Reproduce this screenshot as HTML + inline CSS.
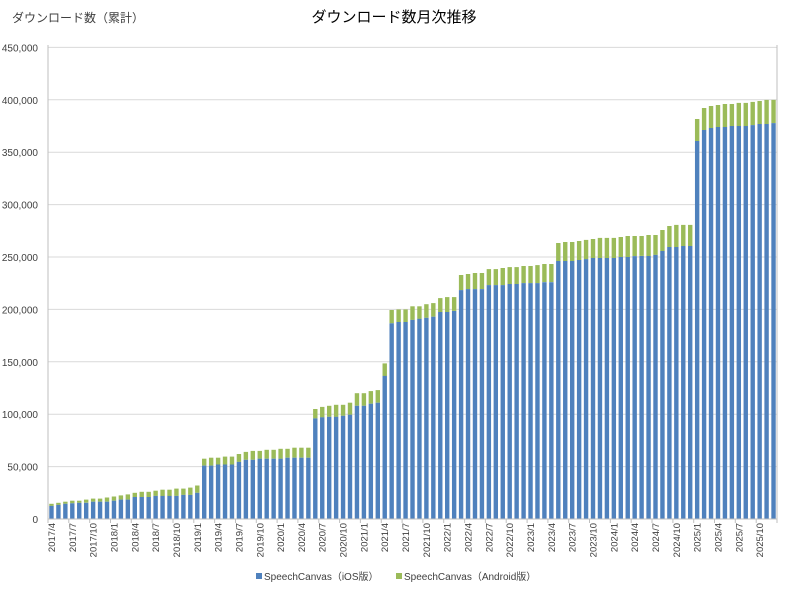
<!DOCTYPE html>
<html><head><meta charset="utf-8"><style>
body{margin:0;background:#fff;}
svg{display:block;font-family:"Liberation Sans","Noto Sans CJK JP",sans-serif;}
</style></head><body>
<svg id="c" width="789" height="593" xmlns="http://www.w3.org/2000/svg">
<rect width="789" height="593" fill="#fff"/>
<text x="12" y="22" font-size="12" fill="#404040">ダウンロード数（累計）</text>
<text x="394" y="22" font-size="15" fill="#000" text-anchor="middle">ダウンロード数月次推移</text>
<g id="g"></g>
<rect x="256" y="573" width="6" height="6" fill="#4f81bd"/>
<text x="264" y="580" font-size="10" fill="#404040">SpeechCanvas（iOS版）</text>
<rect x="396" y="573" width="6" height="6" fill="#9bbb59"/>
<text x="404" y="580" font-size="10" fill="#404040">SpeechCanvas（Android版）</text>
</svg>
<script>
var d=[[12.5,14.5],[13.5,15.5],[14.5,16.5],[15,17.5],[15.5,17.5],[15.5,18.5],[16.5,19.5],[16.5,19.5],[16.5,20.5],[17.5,21.5],[18.5,22.5],[18.5,23.5],
[21,25],[21,26],[21,26],[22,27],[22,28],[22,28],[22,29],[23,29],[23,30],[25,32],[51,57.5],[51,58.5],[52,58.5],[52,59.5],[52,59.5],[54.5,62],[56.5,64],[56.5,65],[57.5,65],[57.5,66],[57.5,66],[57.5,67],[58.5,67],[58.5,68],[58.5,68],[58.5,68],
[96,105],[97,107],[97.5,108],[97.5,109],[98.5,109],[99.5,111],[108,120],[108,120],[110,122],[111,123],
[136.5,148.5],[186.7,199.4],[188,200],[188,200],[190,203],[191,203],[192,205],[193,206],[197.5,210.8],[197.5,211.7],[198.5,211.7],
[218.4,232.8],[219.4,233.8],[219.4,234.7],[219.4,234.7],[223.2,238.5],[223.2,238.5],[223.2,239.5],[224.2,240.4],[224.2,240.4],[225.1,241.4],[225.1,241.4],[225.1,242.3],[226,243.3],[226,243.3],
[246.2,263.4],[246.2,264.3],[246.2,264.3],[247.1,265.3],[248,266.3],[249,267.2],[249,268.2],[249,268.2],[249,268.2],[250,269.1],[250,270],[250.9,270],[251,270],[251,271],[252,271],
[255.7,275.8],[259.5,279.6],[259.5,280.6],[260.5,280.6],[260.5,280.6],
[360.7,381.7],[371.2,392.2],[373.1,394.1],[374,395],[374,396],[375,396],[375,397],[375,397],[375.9,398],[376.9,398.9],[376.9,399.9],[377.8,399.9]];
var s='',X0=48,X1=777,Y0=519,k=1.048,p=(X1-X0)/105;
for(var v=0;v<=450;v+=50){var y=(Y0-v*k).toFixed(1);
 if(v>0)s+='<line x1="'+X0+'" x2="'+X1+'" y1="'+y+'" y2="'+y+'" stroke="#d9d9d9"/>';
 s+='<text x="38" y="'+(+y+4)+'" font-size="10" fill="#404040" text-anchor="end">'+(v?v.toLocaleString('en-US')+',000':'0')+'</text>';}
s+='<line x1="'+X0+'" x2="'+X0+'" y1="45" y2="'+Y0+'" stroke="#bfbfbf"/>';
s+='<line x1="'+X1+'" x2="'+X1+'" y1="45" y2="'+Y0+'" stroke="#bfbfbf"/>';
for(var i=0;i<d.length;i++){var c=X0+p*(i+0.5),w=4.4,x=(c-w/2).toFixed(2);
 var hi=d[i][0]*k,ht=d[i][1]*k;
 s+='<rect x="'+x+'" y="'+(Y0-ht).toFixed(1)+'" width="'+w+'" height="'+(ht-hi).toFixed(1)+'" fill="#9bbb59"/>';
 s+='<rect x="'+x+'" y="'+(Y0-hi).toFixed(1)+'" width="'+w+'" height="'+hi.toFixed(1)+'" fill="#4f81bd"/>';
 if(i%3==0){var yr=2017+Math.floor((i+3)/12),m=(i+3)%12+1;
  s+='<text transform="translate('+(c+3.5).toFixed(1)+',523) rotate(-90)" font-size="9.5" fill="#404040" text-anchor="end">'+yr+'/'+m+'</text>';}
}
s+='<line x1="'+X0+'" x2="'+X1+'" y1="'+Y0+'" y2="'+Y0+'" stroke="#bfbfbf"/>';
for(var j=0;j<=105;j+=3){var tx=(X0+p*j).toFixed(1);s+='<line x1="'+tx+'" x2="'+tx+'" y1="'+Y0+'" y2="'+(Y0+4)+'" stroke="#bfbfbf"/>';}
document.getElementById('g').innerHTML=s;
</script>
</body></html>
